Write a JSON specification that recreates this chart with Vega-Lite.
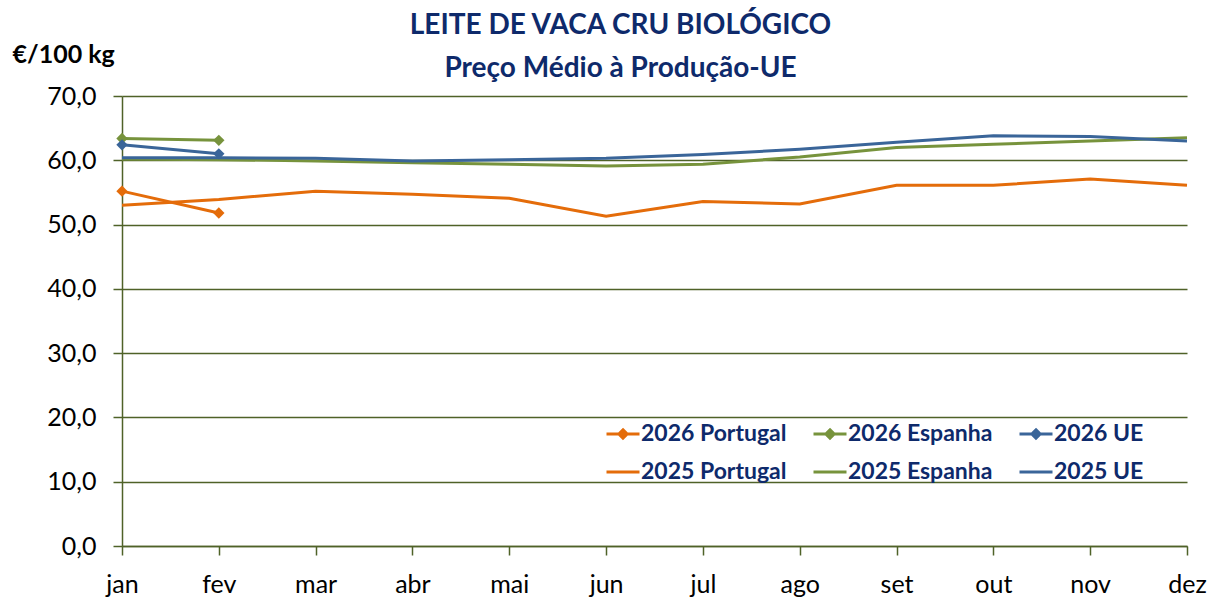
{
  "$schema": "https://vega.github.io/schema/vega-lite/v6.json",
  "width": 1065,
  "height": 450,
  "autosize": {"type": "none"},
  "padding": {"left": 122, "top": 96, "right": 29, "bottom": 52},
  "background": "white",
  "config": {
    "view": {"stroke": null},
    "font": "Lato",
    "legend": {
      "title": null,
      "orient": "none",
      "symbolSize": 1089,
      "symbolStrokeWidth": 3,
      "labelFontSize": 23,
      "labelFont": "Lato",
      "labelFontWeight": "bold",
      "labelColor": "#0E2A6B",
      "labelOffset": 0,
      "labelLimit": 300
    }
  },
  "title": {
    "text": ["LEITE DE VACA CRU BIOLÓGICO", "Preço Médio à Produção-UE"],
    "anchor": "middle",
    "dx": -34,
    "offset": -41,
    "fontSize": 28,
    "lineHeight": 43,
    "font": "Lato",
    "fontWeight": "bold",
    "color": "#0E2A6B"
  },
  "datasets": {
    "d2026": [
      {"month": "jan", "series": "2026 Portugal", "value": 55.2},
      {"month": "fev", "series": "2026 Portugal", "value": 51.8},
      {"month": "jan", "series": "2026 Espanha", "value": 63.4},
      {"month": "fev", "series": "2026 Espanha", "value": 63.1},
      {"month": "jan", "series": "2026 UE", "value": 62.4},
      {"month": "fev", "series": "2026 UE", "value": 61.0}
    ],
    "d2025": [
      {"month": "jan", "series": "2025 Portugal", "value": 53.0},
      {"month": "fev", "series": "2025 Portugal", "value": 53.9},
      {"month": "mar", "series": "2025 Portugal", "value": 55.2},
      {"month": "abr", "series": "2025 Portugal", "value": 54.7},
      {"month": "mai", "series": "2025 Portugal", "value": 54.1},
      {"month": "jun", "series": "2025 Portugal", "value": 51.3},
      {"month": "jul", "series": "2025 Portugal", "value": 53.6},
      {"month": "ago", "series": "2025 Portugal", "value": 53.2},
      {"month": "set", "series": "2025 Portugal", "value": 56.1},
      {"month": "out", "series": "2025 Portugal", "value": 56.1},
      {"month": "nov", "series": "2025 Portugal", "value": 57.1},
      {"month": "dez", "series": "2025 Portugal", "value": 56.1},
      {"month": "jan", "series": "2025 Espanha", "value": 60.2},
      {"month": "fev", "series": "2025 Espanha", "value": 60.1},
      {"month": "mar", "series": "2025 Espanha", "value": 59.9},
      {"month": "abr", "series": "2025 Espanha", "value": 59.6},
      {"month": "mai", "series": "2025 Espanha", "value": 59.4},
      {"month": "jun", "series": "2025 Espanha", "value": 59.1},
      {"month": "jul", "series": "2025 Espanha", "value": 59.4},
      {"month": "ago", "series": "2025 Espanha", "value": 60.5},
      {"month": "set", "series": "2025 Espanha", "value": 62.0},
      {"month": "out", "series": "2025 Espanha", "value": 62.5},
      {"month": "nov", "series": "2025 Espanha", "value": 63.0},
      {"month": "dez", "series": "2025 Espanha", "value": 63.5},
      {"month": "jan", "series": "2025 UE", "value": 60.4},
      {"month": "fev", "series": "2025 UE", "value": 60.4},
      {"month": "mar", "series": "2025 UE", "value": 60.3},
      {"month": "abr", "series": "2025 UE", "value": 59.9},
      {"month": "mai", "series": "2025 UE", "value": 60.1},
      {"month": "jun", "series": "2025 UE", "value": 60.3},
      {"month": "jul", "series": "2025 UE", "value": 60.9},
      {"month": "ago", "series": "2025 UE", "value": 61.7},
      {"month": "set", "series": "2025 UE", "value": 62.8},
      {"month": "out", "series": "2025 UE", "value": 63.8},
      {"month": "nov", "series": "2025 UE", "value": 63.7},
      {"month": "dez", "series": "2025 UE", "value": 63.0}
    ]
  },
  "encoding": {
    "x": {
      "field": "month",
      "type": "ordinal",
      "sort": ["jan", "fev", "mar", "abr", "mai", "jun", "jul", "ago", "set", "out", "nov", "dez"],
      "scale": {"type": "point", "padding": 0, "domain": ["jan", "fev", "mar", "abr", "mai", "jun", "jul", "ago", "set", "out", "nov", "dez"]},
      "axis": {
        "title": null,
        "labelAngle": 0,
        "labelFontSize": 25,
        "labelColor": "#000000",
        "labelPadding": 17,
        "tickSize": 9,
        "tickColor": "#4F6228",
        "tickWidth": 1.5,
        "domainColor": "#4F6228",
        "domainWidth": 1.5,
        "grid": false
      }
    },
    "y": {
      "field": "value",
      "type": "quantitative",
      "scale": {"domain": [0, 70], "nice": false, "zero": true},
      "axis": {
        "title": "€/100 kg",
        "titleAngle": 0,
        "titleAlign": "left",
        "titleBaseline": "alphabetic",
        "titleX": -110,
        "titleY": -34,
        "titleFontSize": 25,
        "titleFontWeight": "bold",
        "titleColor": "#000000",
        "values": [0, 10, 20, 30, 40, 50, 60, 70],
        "labelExpr": "replace(format(datum.value, '.1f'), '.', ',')",
        "labelFontSize": 25,
        "labelColor": "#000000",
        "labelPadding": 17,
        "tickSize": 9,
        "tickColor": "#4F6228",
        "tickWidth": 1.5,
        "domainColor": "#4F6228",
        "domainWidth": 1.5,
        "grid": true,
        "gridColor": "#4F6228",
        "gridWidth": 1.5
      }
    }
  },
  "layer": [
    {
      "data": {"name": "d2025"},
      "transform": [{"filter": "datum.series == '2025 Portugal'"}],
      "mark": {"type": "line", "strokeWidth": 3},
      "encoding": {
        "color": {
          "field": "series", "type": "nominal",
          "scale": {"domain": ["2025 Portugal"], "range": ["#E46C0A"]},
          "legend": {"legendX": 483, "legendY": 358, "symbolType": "M-1,0H1"}
        }
      }
    },
    {
      "data": {"name": "d2025"},
      "transform": [{"filter": "datum.series == '2025 Espanha'"}],
      "mark": {"type": "line", "strokeWidth": 3},
      "encoding": {
        "color": {
          "field": "series", "type": "nominal",
          "scale": {"domain": ["2025 Espanha"], "range": ["#77933C"]},
          "legend": {"legendX": 690, "legendY": 358, "symbolType": "M-1,0H1"}
        }
      }
    },
    {
      "data": {"name": "d2025"},
      "transform": [{"filter": "datum.series == '2025 UE'"}],
      "mark": {"type": "line", "strokeWidth": 3},
      "encoding": {
        "color": {
          "field": "series", "type": "nominal",
          "scale": {"domain": ["2025 UE"], "range": ["#3A6599"]},
          "legend": {"legendX": 896, "legendY": 358, "symbolType": "M-1,0H1"}
        }
      }
    },
    {
      "data": {"name": "d2026"},
      "transform": [{"filter": "datum.series == '2026 Portugal'"}],
      "mark": {"type": "line", "strokeWidth": 3, "point": {"shape": "diamond", "size": 130, "filled": true}},
      "encoding": {
        "color": {
          "field": "series", "type": "nominal",
          "scale": {"domain": ["2026 Portugal"], "range": ["#E46C0A"]},
          "legend": {"legendX": 483, "legendY": 320, "symbolType": "M-1,0H1M0,-0.25L0.25,0L0,0.25L-0.25,0Z"}
        }
      }
    },
    {
      "data": {"name": "d2026"},
      "transform": [{"filter": "datum.series == '2026 Espanha'"}],
      "mark": {"type": "line", "strokeWidth": 3, "point": {"shape": "diamond", "size": 130, "filled": true}},
      "encoding": {
        "color": {
          "field": "series", "type": "nominal",
          "scale": {"domain": ["2026 Espanha"], "range": ["#77933C"]},
          "legend": {"legendX": 690, "legendY": 320, "symbolType": "M-1,0H1M0,-0.25L0.25,0L0,0.25L-0.25,0Z"}
        }
      }
    },
    {
      "data": {"name": "d2026"},
      "transform": [{"filter": "datum.series == '2026 UE'"}],
      "mark": {"type": "line", "strokeWidth": 3, "point": {"shape": "diamond", "size": 130, "filled": true}},
      "encoding": {
        "color": {
          "field": "series", "type": "nominal",
          "scale": {"domain": ["2026 UE"], "range": ["#3A6599"]},
          "legend": {"legendX": 896, "legendY": 320, "symbolType": "M-1,0H1M0,-0.25L0.25,0L0,0.25L-0.25,0Z"}
        }
      }
    }
  ],
  "resolve": {"scale": {"color": "independent"}}
}
